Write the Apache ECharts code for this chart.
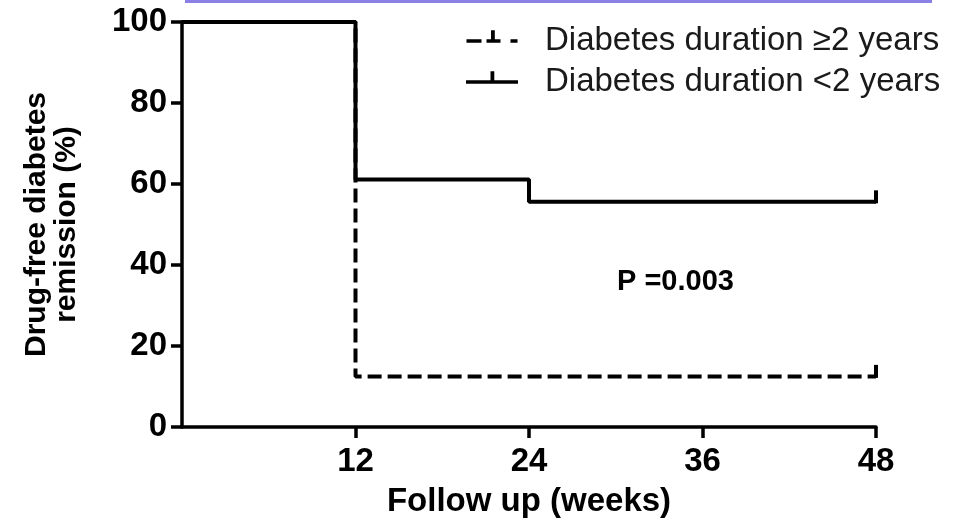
<!DOCTYPE html>
<html>
<head>
<meta charset="utf-8">
<script src="https://cdn.jsdelivr.net/npm/echarts@6/dist/echarts.min.js"></script>
<style>
  html, body { margin: 0; padding: 0; background: #ffffff; }
  #chart { width: 979px; height: 522px; }
</style>
</head>
<body>
<div id="chart"></div>
<script>
// Kaplan–Meier style step curves for drug-free diabetes remission
const seriesNames = ['Diabetes duration \u22652 years', 'Diabetes duration <2 years'];

// Duration >= 2 years (dashed)
const longWeeks = [0, 12, 48];
const longRemission = [100, 12.5, 12.5];

// Duration < 2 years (solid)
const shortWeeks = [0, 12, 24, 48];
const shortRemission = [100, 61.1, 55.6, 55.6];

const xTicks = [12, 24, 36, 48];
const yTicks = [0, 20, 40, 60, 80, 100];
const pValueText = 'P =0.003';

const FONT = '"Liberation Sans", Arial, Helvetica, sans-serif';

function pairs(xs, ys) {
  return xs.map((x, i) => [x, ys[i]]);
}

// Censoring tick drawn at the final follow-up point of each curve
function censorMark(xs, ys) {
  const i = xs.length - 1;
  return {
    symbol: 'rect',
    symbolSize: [4, 13],
    symbolOffset: [0, -5],
    label: { show: false },
    itemStyle: { color: '#000' },
    silent: true,
    data: [{ coord: [xs[i], ys[i]] }]
  };
}

// Legend icons: horizontal line with a short censor tick above it.
// The trailing move-to keeps the line on the icon's vertical centre.
const iconSolid = 'path://M0,9h52v3.5h-52z M24.5,0h3.8v9.5h-3.8z M0,21.5';
const iconDashed = 'path://M0,9h15v3.5h-15z M20,9h14v3.5h-14z M24.5,0h3.8v9.5h-3.8z M44,9h7v3.5h-7z M0,21.5';

const chart = echarts.init(document.getElementById('chart'), null, { renderer: 'canvas' });

chart.setOption({
  animation: false,
  backgroundColor: '#ffffff',
  grid: { left: 182, right: 103, top: 22, bottom: 95, containLabel: false, outerBoundsMode: 'none' },
  legend: {
    orient: 'vertical',
    left: 466,
    top: 23,
    padding: 0,
    itemWidth: 52,
    itemHeight: 21.5,
    itemGap: 5,
    selectedMode: false,
    textStyle: {
      fontFamily: FONT,
      fontSize: 33,
      color: '#1a1a1a',
      lineHeight: 36,
      padding: [0, 0, 0, 22]
    },
    data: [
      { name: seriesNames[0], icon: iconDashed, itemStyle: { color: '#000' } },
      { name: seriesNames[1], icon: iconSolid, itemStyle: { color: '#000' } }
    ]
  },
  xAxis: {
    type: 'value',
    min: 0,
    max: 48,
    interval: 12,
    name: 'Follow up (weeks)',
    nameLocation: 'middle',
    nameGap: 52,
    nameTextStyle: { fontFamily: FONT, fontSize: 33, fontWeight: 'bold', color: '#000', lineHeight: 36 },
    splitLine: { show: false },
    axisLine: { show: true, lineStyle: { color: '#000', width: 3.5 } },
    axisTick: { show: true, length: 11, lineStyle: { color: '#000', width: 3.5 }, customValues: xTicks },
    axisLabel: {
      customValues: xTicks,
      margin: 18,
      fontFamily: FONT, fontSize: 33, fontWeight: 'bold', color: '#000', lineHeight: 34
    }
  },
  yAxis: {
    type: 'value',
    min: 0,
    max: 100,
    interval: 20,
    name: 'Drug-free diabetes\nremission (%)',
    nameLocation: 'middle',
    nameRotate: 90,
    nameGap: 100,
    nameTextStyle: { fontFamily: FONT, fontSize: 30, fontWeight: 'bold', color: '#000', lineHeight: 30, align: 'center' },
    splitLine: { show: false },
    axisLine: { show: true, lineStyle: { color: '#000', width: 3.5 } },
    axisTick: { show: true, length: 11, lineStyle: { color: '#000', width: 3.5 } },
    axisLabel: {
      customValues: yTicks,
      margin: 15,
      fontFamily: FONT, fontSize: 33, fontWeight: 'bold', color: '#000'
    }
  },
  series: [
    {
      name: seriesNames[0],
      type: 'line',
      step: 'end',
      symbol: 'none',
      z: 2,
      lineStyle: { color: '#000', width: 4, type: [14, 6] },
      itemStyle: { color: '#000' },
      data: pairs(longWeeks, longRemission),
      markPoint: censorMark(longWeeks, longRemission)
    },
    {
      name: seriesNames[1],
      type: 'line',
      step: 'end',
      symbol: 'none',
      z: 3,
      lineStyle: { color: '#000', width: 4 },
      itemStyle: { color: '#000' },
      data: pairs(shortWeeks, shortRemission),
      markPoint: censorMark(shortWeeks, shortRemission)
    }
  ],
  graphic: [
    {
      type: 'rect',
      left: 185,
      top: 0,
      shape: { width: 747, height: 3 },
      style: { fill: '#8b80e6' },
      silent: true
    },
    {
      type: 'text',
      left: 617,
      top: 267,
      style: {
        text: pValueText,
        fontFamily: FONT,
        fontSize: 29,
        fontWeight: 'bold',
        fill: '#000'
      },
      silent: true
    }
  ]
});
</script>
</body>
</html>
